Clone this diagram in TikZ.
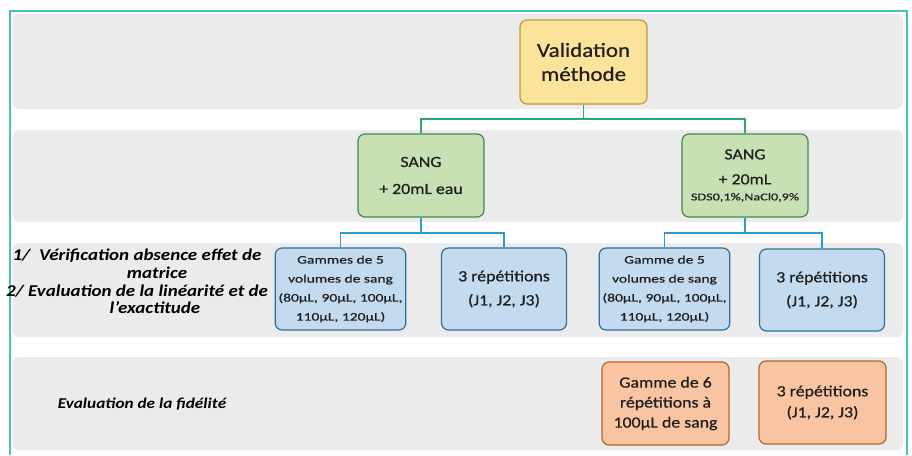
\documentclass[tikz,border=0pt]{standalone}
\usepackage{fontspec}
\setmainfont{Carlito}[FakeStretch=1.15, UprightFeatures={FakeBold=0.6}]
\newfontfamily\narrowfont{Carlito}[FakeStretch=1.35, FakeBold=0.5]
\usepackage{xcolor}
\usepackage{tikz}
\definecolor{framecol}{HTML}{43C4B5}
\definecolor{bandgray}{HTML}{EBEBEB}
\definecolor{yelfill}{HTML}{FCE39B}
\definecolor{yeldraw}{HTML}{BF9A35}
\definecolor{grnfill}{HTML}{C7E1B5}
\definecolor{grndraw}{HTML}{3E8C4C}
\definecolor{grnline}{HTML}{2EA86C}
\definecolor{blufill}{HTML}{C4DBEF}
\definecolor{bludraw}{HTML}{2C6F98}
\definecolor{bluline}{HTML}{2F9BD6}
\definecolor{orafill}{HTML}{F8C4A1}
\definecolor{oradraw}{HTML}{B5652F}
\tikzstyle{methode} = [rectangle, rounded corners=7pt,
minimum width=127pt,
minimum height=84pt,
text centered, align=center,
draw=yeldraw, line width=1.2pt,
fill=yelfill,
font=\fontsize{20}{24}\selectfont]
\tikzstyle{sang} = [rectangle, rounded corners=7pt,
minimum width=126pt,
minimum height=83pt,
text centered, align=center,
draw=grndraw, line width=1.2pt,
fill=grnfill,
font=\fontsize{15.5}{19}\selectfont]
\tikzstyle{essai} = [rectangle, rounded corners=7pt,
minimum width=125pt,
minimum height=82pt,
text centered, align=center,
draw=bludraw, line width=1.2pt,
fill=blufill,
font=\fontsize{15.5}{19}\selectfont]
\tikzstyle{fidel} = [rectangle, rounded corners=7pt,
minimum width=127pt,
minimum height=83pt,
text centered, align=center,
draw=oradraw, line width=1.2pt,
fill=orafill,
font=\fontsize{15.5}{18}\selectfont]
\tikzstyle{etape} = [align=center, text=black,
font=\bfseries\itshape\fontsize{16.5}{17.7}\selectfont]
\tikzstyle{band} = [fill=bandgray, rounded corners=6pt]
\tikzstyle{greenlink} = [draw=grnline, line width=1.5pt]
\tikzstyle{bluelink} = [draw=bluline, line width=1.5pt]

\begin{document}
\begin{tikzpicture}[x=1pt, y=-1pt, text=black!88]
\useasboundingbox (0,0) rectangle (912,455);
% bandes grises
\fill [band] (13,14) rectangle (903,109);
\fill [band] (13,130) rectangle (903,222);
\fill [band] (13,243) rectangle (903,337);
\fill [band] (13,357) rectangle (903,450);
\draw [framecol, line width=2pt] (10,455) -- (10,11) -- (907,11) -- (907,455);

\node (valid) [methode] at (583.5,62) {Validation\\méthode};
\node (sang1) [sang] at (421,175.5) {SANG\\[8pt]+ 20mL eau};
\node (sang2) [sang] at (745,175.5) {SANG\\[6pt]+ 20mL\\[-3pt]{\narrowfont\fontsize{10.5}{11}\selectfont SDS0,1\%,NaCl0,9\%}};
\node (gam1) [essai] at (340.5,289) {\narrowfont\fontsize{11.5}{11}\selectfont Gammes de 5\\ \narrowfont\fontsize{11.5}{11}\selectfont volumes de sang\\ \narrowfont\fontsize{11.5}{11}\selectfont (80µL, 90µL, 100µL,\\ \narrowfont\fontsize{11.5}{11}\selectfont 110µL, 120µL)};
\node (rep1) [essai] at (504,289) {3 répétitions\\[5pt](J1, J2, J3)};
\node (gam2) [essai] at (664.5,289) {\narrowfont\fontsize{11.5}{11}\selectfont Gamme de 5\\ \narrowfont\fontsize{11.5}{11}\selectfont volumes de sang\\ \narrowfont\fontsize{11.5}{11}\selectfont (80µL, 90µL, 100µL,\\ \narrowfont\fontsize{11.5}{11}\selectfont 110µL, 120µL)};
\node (rep2) [essai] at (822,290) {3 répétitions\\[5pt](J1, J2, J3)};
\node (fid1) [fidel] at (665.5,403.5) {Gamme de 6\\[2pt]répétitions à\\[2pt]100µL de sang};
\node (fid2) [fidel] at (822.5,402.5) {3 répétitions\\[3pt](J1, J2, J3)};

\node (lab1) [etape] at (137,281.5) {1/\ \ Vérification absence effet de\\ \hspace*{40pt}matrice\\ 2/ Evaluation de la linéarité et de\\ \hspace*{36pt}l'exactitude};
\node (lab2) [etape, font=\bfseries\itshape\fontsize{15}{17}\selectfont] at (142,404) {Evaluation de la fidélité};

\coordinate (bus0) at (583.5,119);
\coordinate (bus1) at (421,233);
\coordinate (bus2) at (745,233);
\draw [greenlink] (valid) -- (bus0);
\draw [greenlink] (bus0) -| (sang1);
\draw [greenlink] (bus0) -| (sang2);
\draw [bluelink] (sang1) -- (bus1);
\draw [bluelink] (bus1) -| (gam1);
\draw [bluelink] (bus1) -| (rep1);
\draw [bluelink] (sang2) -- (bus2);
\draw [bluelink] (bus2) -| (gam2);
\draw [bluelink] (bus2) -| (rep2);
\end{tikzpicture}
\end{document}
